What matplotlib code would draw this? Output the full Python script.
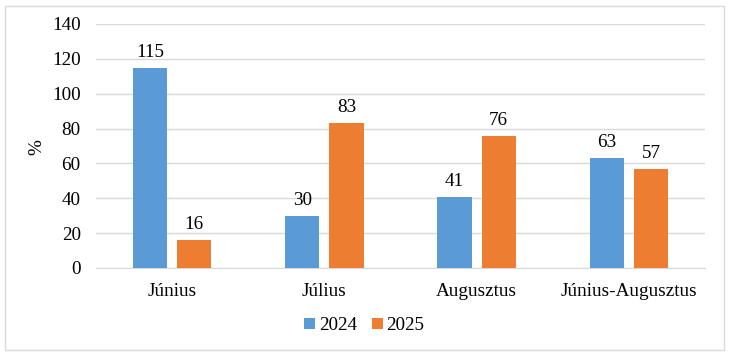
import matplotlib.pyplot as plt
import numpy as np
from matplotlib.patches import Rectangle

categories = ['Június', 'Július', 'Augusztus', 'Június-Augusztus']
values_2024 = [115, 30, 41, 63]
values_2025 = [16, 83, 76, 57]
series_labels = ['2024', '2025']

plt.rcParams['font.family'] = ['Liberation Serif', 'DejaVu Serif']
fs = 13.8

fig = plt.figure(figsize=(7.29, 3.56), dpi=100)
ax = fig.add_axes([96 / 729, 1 - 268 / 356, 609 / 729, 244 / 356])

x = np.arange(len(categories))
w = 0.224
off = 0.145
b1 = ax.bar(x - off, values_2024, w, color='#5B9BD5', label=series_labels[0], zorder=3)
b2 = ax.bar(x + off, values_2025, w, color='#ED7D31', label=series_labels[1], zorder=3)
ax.bar_label(b1, padding=5, fontsize=fs)
ax.bar_label(b2, padding=5, fontsize=fs)

ax.set_xlim(-0.5, 3.5)
ax.set_ylim(0, 140)
ax.set_yticks(range(0, 141, 20))
ax.set_xticks(x)
ax.set_xticklabels(categories)
ax.tick_params(axis='both', length=0, labelsize=fs)
ax.tick_params(axis='y', pad=11)
ax.tick_params(axis='x', pad=11)
ax.grid(axis='y', color='#D9D9D9', linewidth=1, zorder=0)
for s in ['top', 'right', 'left']:
    ax.spines[s].set_visible(False)
ax.spines['bottom'].set_color('#D9D9D9')
fig.text(37 / 729, 1 - 147 / 356, '%', fontsize=fs, rotation=90, ha='center', va='center')

fig.legend(loc='center', bbox_to_anchor=(0.5, 1 - 326 / 356), ncol=2, frameon=False,
           fontsize=fs, handlelength=0.55, handleheight=0.55, handletextpad=0.2,
           columnspacing=0.8)

fig.patches.append(Rectangle((5 / 729, 6 / 356), 719 / 729, 344 / 356, transform=fig.transFigure,
                             fill=False, edgecolor='#D9D9D9', linewidth=1))

fig.savefig('out.png', dpi=100)
